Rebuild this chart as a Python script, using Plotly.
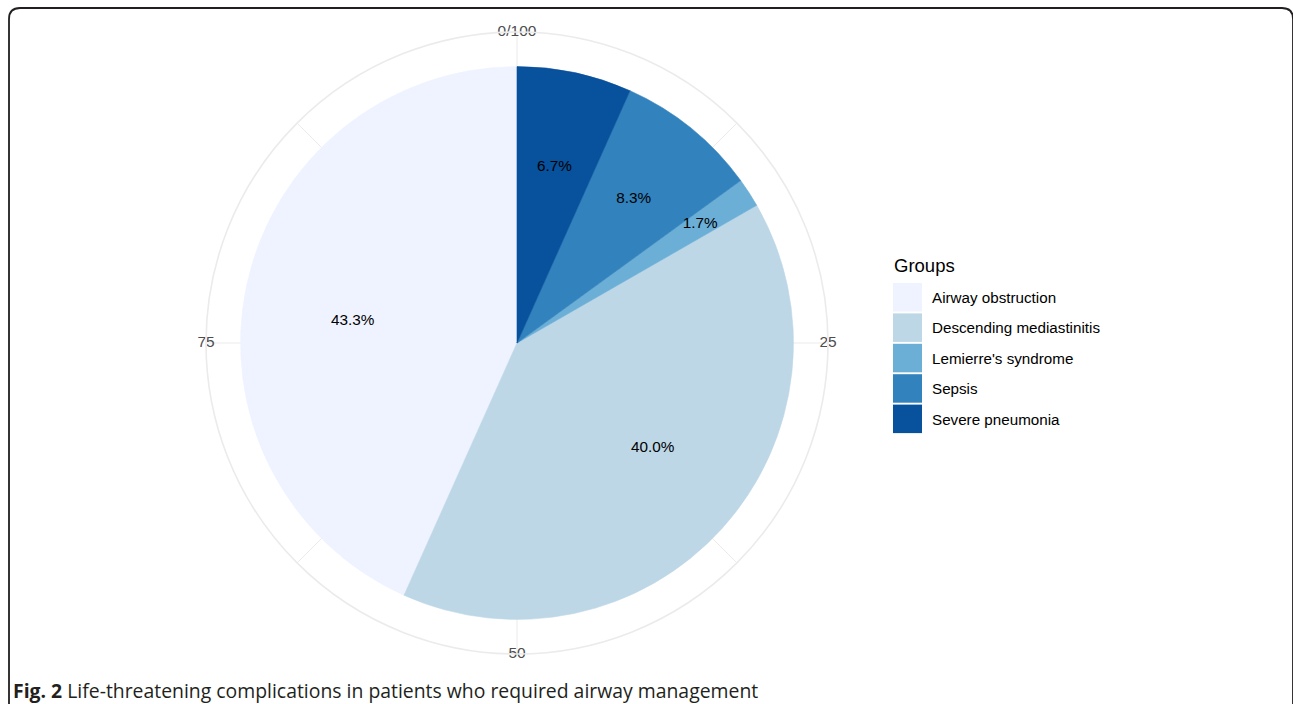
import plotly.graph_objects as go

# Life-threatening complications among patients needing airway management
groups = ["Airway obstruction", "Descending mediastinitis", "Lemierre's syndrome",
          "Sepsis", "Severe pneumonia"]
percent = [43.3, 40.0, 1.7, 8.3, 6.7]
colors = ["#EFF3FF", "#BDD7E7", "#6BAED6", "#3182BD", "#08519C"]
theta_breaks = [0, 25, 50, 75]
theta_labels = ["0/100", "25", "50", "75"]

# placement of the percentage labels: radius (fraction of pie radius)
# and a small angular nudge in degrees
label_radius = [0.60, 0.62, 0.79, 0.67, 0.65]
label_nudge = [-4.4, -4.4, 0.0, 0.0, 0.0]

W, H = 1293, 704
def px(x):
    return x / W
def py(y):
    return 1 - y / H

# stack slices clockwise from the top, last group first (ggplot stacking order)
order = list(range(len(groups)))[::-1]
start = 0.0
mid_deg, width_deg = {}, {}
for i in order:
    mid_deg[i] = (start + percent[i] / 2) * 3.6
    width_deg[i] = percent[i] * 3.6
    start += percent[i]

R_MAX = 1.125  # outer ring radius relative to the pie radius
GRID = "#EBEBEB"
FONT = "Liberation Sans, Arial"

fig = go.Figure()
fig.add_trace(go.Barpolar(
    r=[1.0] * len(groups),
    theta=[mid_deg[i] for i in range(len(groups))],
    width=[width_deg[i] for i in range(len(groups))],
    marker=dict(color=colors, line=dict(color=colors, width=0.6)),
    showlegend=False, hoverinfo="skip",
))
fig.add_trace(go.Scatterpolar(
    r=[label_radius[i] for i in range(len(groups))],
    theta=[mid_deg[i] + label_nudge[i] for i in range(len(groups))],
    mode="text",
    text=[f"{p:.1f}%" for p in percent],
    textfont=dict(family=FONT, size=15.3, color="#000000"),
    showlegend=False, hoverinfo="skip",
))
fig.add_trace(go.Scatterpolar(
    r=[R_MAX] * len(theta_breaks),
    theta=[b * 3.6 for b in theta_breaks],
    mode="text",
    text=theta_labels,
    textfont=dict(family=FONT, size=15.5, color="#4D4D4D"),
    cliponaxis=False,
    showlegend=False, hoverinfo="skip",
))

fig.update_layout(
    width=W, height=H,
    margin=dict(l=0, r=0, t=0, b=0),
    paper_bgcolor="white",
    showlegend=False,
    polar=dict(
        domain=dict(x=[px(206), px(828)], y=[py(654), py(32)]),
        bgcolor="white",
        radialaxis=dict(range=[0, R_MAX], showgrid=False, showline=False,
                        showticklabels=False, ticks=""),
        angularaxis=dict(rotation=90, direction="clockwise",
                         tickvals=[k * 45 for k in range(8)],
                         showticklabels=False, ticks="",
                         showgrid=True, gridcolor=GRID, gridwidth=1.2,
                         showline=True, linecolor=GRID, linewidth=1.6),
    ),
)

shapes = []
annotations = []

# legend drawn as large swatches
annotations.append(dict(x=px(892), y=py(265), xref="paper", yref="paper",
                        xanchor="left", yanchor="middle", showarrow=False,
                        text="Groups",
                        font=dict(family=FONT, size=18.5, color="#000000")))
for k, (g, c) in enumerate(zip(groups, colors)):
    top = 283 + k * 30.4
    shapes.append(dict(type="rect", xref="paper", yref="paper",
                       x0=px(893), x1=px(922), y0=py(top + 28.5), y1=py(top),
                       fillcolor=c, line=dict(width=0)))
    annotations.append(dict(x=px(930), y=py(top + 14.5), xref="paper", yref="paper",
                            xanchor="left", yanchor="middle", showarrow=False,
                            text=g,
                            font=dict(family=FONT, size=15.2, color="#000000")))

# caption
annotations.append(dict(x=px(11), y=py(690), xref="paper", yref="paper",
                        xanchor="left", yanchor="middle", showarrow=False,
                        text="<b>Fig. 2</b> Life-threatening complications in patients who required airway management",
                        font=dict(family="Open Sans", size=19.4, color="#231F20")))

# rounded frame around the figure panel
r = 11
path = (f"M {px(9)},{py(H + 5)} L {px(9)},{py(8 + r)} "
        f"Q {px(9)},{py(8)} {px(9 + r)},{py(8)} "
        f"L {px(1293 - r)},{py(8)} "
        f"Q {px(1293)},{py(8)} {px(1293)},{py(8 + r)} "
        f"L {px(1293)},{py(H + 5)}")
shapes.append(dict(type="path", xref="paper", yref="paper", path=path,
                   line=dict(color="#231F20", width=1.8)))

fig.update_layout(shapes=shapes, annotations=annotations)
fig.write_html("out.html")
